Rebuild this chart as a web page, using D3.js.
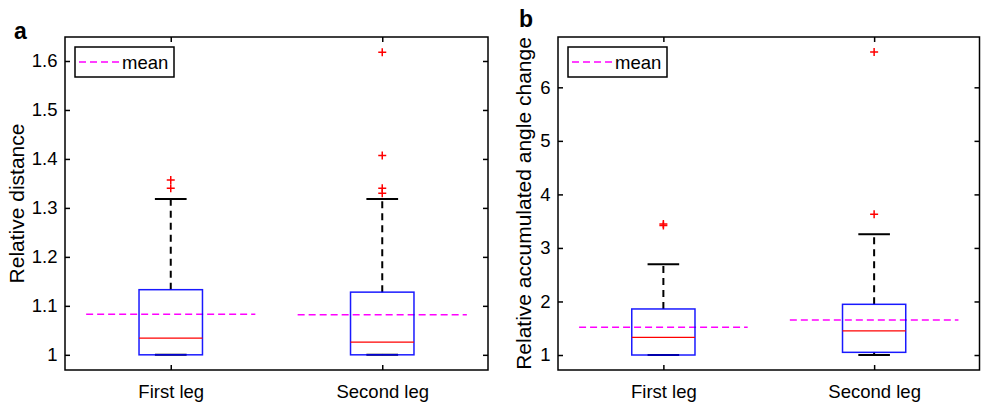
<!DOCTYPE html>
<html>
<head>
<meta charset="utf-8">
<script src="https://cdn.jsdelivr.net/npm/d3@7"></script>
<style>
  body { margin: 0; background: #fff; }
  svg { display: block; font-family: "Liberation Sans", Arial, sans-serif; }
</style>
</head>
<body>
<div id="chart"></div>
<script>
const legs = ["First leg", "Second leg"];

// panel a: relative distance
const distQ1 = [1.0, 1.0];
const distMedian = [1.034, 1.026];
const distQ3 = [1.133, 1.128];
const distLow = [1.0, 1.0];
const distHigh = [1.318, 1.318];
const distMean = [1.083, 1.082];
const distOutliers = [[1.340, 1.357], [1.330, 1.340, 1.407, 1.618]];
const distTicks = [1, 1.1, 1.2, 1.3, 1.4, 1.5, 1.6];

// panel b: relative accumulated angle change
const angQ1 = [1.0, 1.05];
const angMedian = [1.33, 1.449];
const angQ3 = [1.86, 1.947];
const angLow = [1.0, 1.0];
const angHigh = [2.695, 3.256];
const angMean = [1.518, 1.654];
const angOutliers = [[3.417, 3.445], [3.63, 6.66]];
const angTicks = [1, 2, 3, 4, 5, 6];

const width = 981;
const height = 405;

const svg = d3.select("#chart")
    .append("svg")
    .attr("width", width)
    .attr("height", height);

function drawPanel(opts) {
    const { left, right, top, bottom, yDomain, ticks, label, letter, letterX, letterY, labelX,
            q1, median, q3, low, high, mean, outliers } = opts;

    const x = d3.scaleLinear().domain([0.5, 2.5]).range([left, right]);
    const y = d3.scaleLinear().domain(yDomain).range([bottom, top]);
    const g = svg.append("g");

    // axes with inward ticks
    const yAxisL = g.append("g")
        .attr("transform", `translate(${left},0)`)
        .call(d3.axisLeft(y).tickValues(ticks).tickSizeInner(-5).tickSizeOuter(0)
            .tickPadding(7.5).tickFormat(d => String(d)));
    const yAxisR = g.append("g")
        .attr("transform", `translate(${right},0)`)
        .call(d3.axisRight(y).tickValues(ticks).tickSizeInner(-5).tickSizeOuter(0).tickFormat(""));
    const xAxisB = g.append("g")
        .attr("transform", `translate(0,${bottom})`)
        .call(d3.axisBottom(x).tickValues([1, 2]).tickSizeInner(-5).tickSizeOuter(0)
            .tickPadding(14.5).tickFormat(d => legs[d - 1]));
    const xAxisT = g.append("g")
        .attr("transform", `translate(0,${top})`)
        .call(d3.axisTop(x).tickValues([1, 2]).tickSizeInner(-5).tickSizeOuter(0).tickFormat(""));

    [yAxisL, yAxisR, xAxisB, xAxisT].forEach(a => {
        a.select(".domain").remove();
        a.selectAll(".tick line").attr("stroke", "#000").attr("stroke-width", 1.5);
        a.selectAll("text").attr("font-size", 18.5).attr("fill", "#000")
            .attr("font-family", "'Liberation Sans', Arial, sans-serif");
    });

    // mean lines
    g.append("g").selectAll("line")
        .data(mean)
        .enter().append("line")
        .attr("x1", (d, i) => x(i + 1 - 0.4))
        .attr("x2", (d, i) => x(i + 1 + 0.4))
        .attr("y1", d => y(d))
        .attr("y2", d => y(d))
        .attr("stroke", "#ff00ff")
        .attr("stroke-width", 1.5)
        .attr("stroke-dasharray", "7,4");

    const boxHalf = 0.15;
    const capHalf = 0.075;
    const idx = d3.range(legs.length);

    // whiskers
    const wh = g.append("g");
    idx.forEach(i => {
        wh.append("line")
            .attr("x1", x(i + 1)).attr("x2", x(i + 1))
            .attr("y1", y(q3[i])).attr("y2", y(high[i]))
            .attr("stroke", "#000").attr("stroke-width", 2).attr("stroke-dasharray", "7,5");
        wh.append("line")
            .attr("x1", x(i + 1)).attr("x2", x(i + 1))
            .attr("y1", y(q1[i])).attr("y2", y(low[i]))
            .attr("stroke", "#000").attr("stroke-width", 2).attr("stroke-dasharray", "7,5");
        wh.append("line")
            .attr("x1", x(i + 1 - capHalf)).attr("x2", x(i + 1 + capHalf))
            .attr("y1", y(high[i])).attr("y2", y(high[i]))
            .attr("stroke", "#000").attr("stroke-width", 2);
        wh.append("line")
            .attr("x1", x(i + 1 - capHalf)).attr("x2", x(i + 1 + capHalf))
            .attr("y1", y(low[i])).attr("y2", y(low[i]))
            .attr("stroke", "#000").attr("stroke-width", 2);
    });

    // boxes
    g.append("g").selectAll("rect")
        .data(idx)
        .enter().append("rect")
        .attr("x", i => x(i + 1 - boxHalf))
        .attr("width", i => x(i + 1 + boxHalf) - x(i + 1 - boxHalf))
        .attr("y", i => y(q3[i]))
        .attr("height", i => y(q1[i]) - y(q3[i]))
        .attr("fill", "none")
        .attr("stroke", "#0000ff")
        .attr("stroke-width", 1.5)
        .attr("stroke-opacity", 0.9);

    // medians
    g.append("g").selectAll("line")
        .data(median)
        .enter().append("line")
        .attr("x1", (d, i) => x(i + 1 - boxHalf))
        .attr("x2", (d, i) => x(i + 1 + boxHalf))
        .attr("y1", d => y(d))
        .attr("y2", d => y(d))
        .attr("stroke", "#ff0000")
        .attr("stroke-width", 1.3);

    // outliers
    const pts = [];
    outliers.forEach((list, i) => list.forEach(v => pts.push({ i, v })));
    g.append("g").selectAll("path")
        .data(pts)
        .enter().append("path")
        .attr("d", d => {
            const cx = x(d.i + 1), cy = y(d.v), s = 4;
            return `M${cx - s},${cy}H${cx + s}M${cx},${cy - s}V${cy + s}`;
        })
        .attr("stroke", "#ff0000")
        .attr("stroke-width", 1.5)
        .attr("fill", "none");

    // axes box
    g.append("rect")
        .attr("x", left).attr("y", top)
        .attr("width", right - left).attr("height", bottom - top)
        .attr("fill", "none").attr("stroke", "#000").attr("stroke-width", 1.5);

    // legend
    const lg = g.append("g").attr("transform", `translate(${left + 10},${top + 10})`);
    lg.append("rect")
        .attr("width", 99).attr("height", 30)
        .attr("fill", "#fff").attr("stroke", "#000").attr("stroke-width", 1.5);
    lg.append("line")
        .attr("x1", 4).attr("x2", 44).attr("y1", 15).attr("y2", 15)
        .attr("stroke", "#ff00ff").attr("stroke-width", 1.5).attr("stroke-dasharray", "7,4");
    lg.append("text")
        .attr("x", 47).attr("y", 22)
        .attr("font-size", 18.5)
        .text("mean");

    // y label
    g.append("text")
        .attr("transform", `translate(${labelX},${(top + bottom) / 2}) rotate(-90)`)
        .attr("text-anchor", "middle")
        .attr("font-size", 21)
        .text(label);

    // panel letter
    g.append("text")
        .attr("x", letterX).attr("y", letterY)
        .attr("font-size", 23)
        .attr("font-weight", "bold")
        .text(letter);
}

drawPanel({
    left: 65, right: 488, top: 37, bottom: 370,
    yDomain: [0.969, 1.649], ticks: distTicks,
    label: "Relative distance", labelX: 24,
    letter: "a", letterX: 14, letterY: 39,
    q1: distQ1, median: distMedian, q3: distQ3, low: distLow, high: distHigh,
    mean: distMean, outliers: distOutliers
});

drawPanel({
    left: 558, right: 979.5, top: 37, bottom: 370,
    yDomain: [0.72, 6.94], ticks: angTicks,
    label: "Relative accumulated angle change", labelX: 531,
    letter: "b", letterX: 519, letterY: 27,
    q1: angQ1, median: angMedian, q3: angQ3, low: angLow, high: angHigh,
    mean: angMean, outliers: angOutliers
});
</script>
</body>
</html>
